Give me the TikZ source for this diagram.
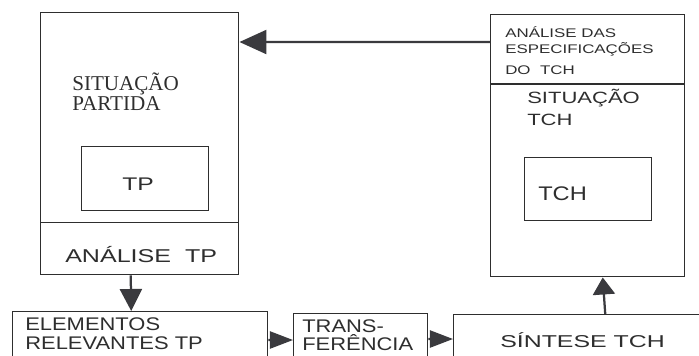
\documentclass[tikz,border=0pt]{standalone}
\usepackage{fontspec}
\setmainfont{Liberation Serif}
\newfontfamily\sfn[FakeStretch=1.2]{Liberation Sans}
\newfontfamily\sfw[FakeStretch=1.35]{Liberation Sans}
\newfontfamily\sfx[FakeStretch=1.45]{Liberation Sans}
\usetikzlibrary{arrows.meta,positioning}
\definecolor{inkGray}{HTML}{2E2E2E}
\definecolor{headGray}{HTML}{3A3A3E}

\begin{document}
\begin{tikzpicture}[
    x=0.025cm, y=-0.025cm,
    box/.style={draw=inkGray, line width=1pt, inner sep=0pt, anchor=north west},
    txt/.style={inner sep=0pt, anchor=base west, align=left, text=inkGray},
    arr/.style={draw=headGray, line width=1.6pt, -{Triangle[length=0.575cm, width=0.425cm]}}
  ]
    \useasboundingbox (0,0) rectangle (699,356);
    \clip (0,0) rectangle (699,356);
    \fill[white] (0,0) rectangle (699,356);

    % left block
    \node[box, minimum width=4.95cm, minimum height=6.55cm] (sitp) at (40,12) {};
    \node[box, minimum width=3.175cm, minimum height=1.6cm] (tpbox) at (81,146) {};
    \draw[inkGray, line width=1pt] ([yshift=1.325cm]sitp.south west) -- ([yshift=1.325cm]sitp.south east);
    \node[txt, font=\fontsize{15}{12}\selectfont] (sitptxt) at (72,110) {SITUAÇÃO\\PARTIDA};
    \node[txt, font=\sfw\fontsize{13}{13}\selectfont] (tptxt) at (122,190) {TP};
    \node[txt, font=\sfw\fontsize{13.2}{13}\selectfont] (anatxt) at (65,262) {ANÁLISE\ \ TP};

    % right block
    \node[box, minimum width=4.85cm, minimum height=6.55cm] (sitch) at (490,14) {};
    \node[box, minimum width=3.175cm, minimum height=1.575cm] (tchbox) at (524,157) {};
    \draw[inkGray, line width=1pt] ([yshift=-1.75cm]sitch.north west) -- ([yshift=-1.75cm]sitch.north east);
    \node[txt, font=\sfw\fontsize{8.9}{11.6}\selectfont] (espec) at (505,74) {ANÁLISE DAS\\ESPECIFICAÇÕES\\[2.8pt]DO\ \ TCH};
    \node[txt, font=\sfw\fontsize{11.6}{15.6}\selectfont] (sitchtxt) at (527,125) {SITUAÇÃO\\TCH};
    \node[txt, font=\sfn\fontsize{14}{14}\selectfont] (tchtxt) at (538,200) {TCH};

    % bottom row
    \node[box, minimum width=6.375cm, minimum height=1.75cm] (elem) at (12,311) {};
    \node[box, minimum width=3.35cm, minimum height=1.75cm] (transf) at (293,313) {};
    \node[box, minimum width=6.675cm, minimum height=1.75cm] (sint) at (453,314) {};
    \node[txt, font=\sfn\fontsize{13}{13.5}\selectfont] (elemtxt) at (25,349) {ELEMENTOS\\RELEVANTES TP};
    \node[txt, font=\sfn\fontsize{13}{12.8}\selectfont] (transtxt) at (302,350) {TRANS-\\FERÊNCIA};
    \node[txt, font=\sfx\fontsize{12.2}{13}\selectfont] (sinttxt) at (500,347) {SÍNTESE TCH};

    % arrows
    \draw[arr, -{Triangle[length=0.675cm, width=0.6cm]}] ([yshift=-0.7cm]sitch.north west) -- ([yshift=-0.75cm]sitp.north east);
    \draw[arr, -{Triangle[length=0.55cm, width=0.55cm]}] ([xshift=-0.225cm]sitp.south) -- ([xshift=-0.225cm]elem.north);
    \draw[arr] ([yshift=-0.725cm]elem.north east) -- ([yshift=-0.675cm]transf.north west);
    \draw[arr] ([yshift=-0.65cm]transf.north east) -- ([yshift=-0.625cm]sint.north west);
    \draw[arr, -{Triangle[length=0.425cm, width=0.55cm]}] ([xshift=0.45cm]sint.north) -- ([xshift=0.375cm]sitch.south);
\end{tikzpicture}
\end{document}
